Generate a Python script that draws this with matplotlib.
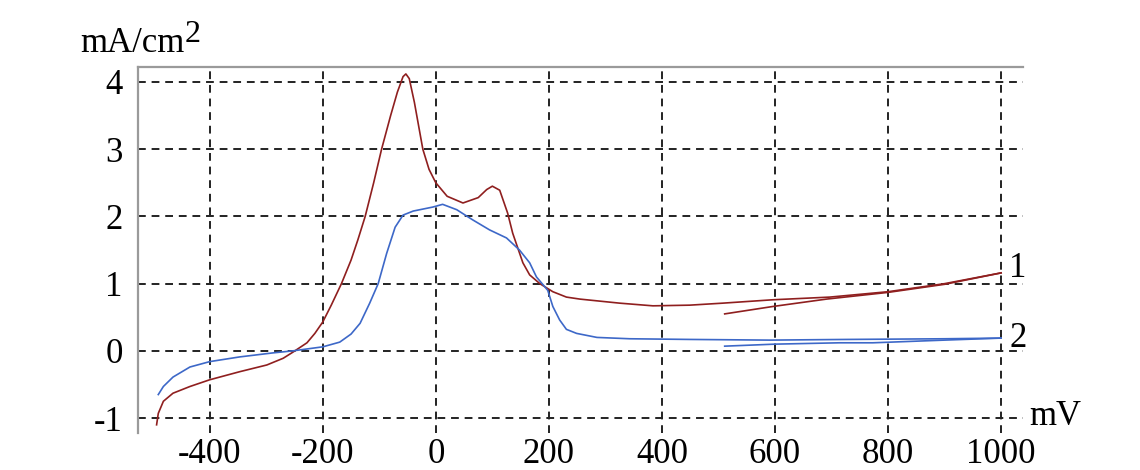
import matplotlib.pyplot as plt

plt.rcParams['font.family'] = ['Liberation Serif', 'DejaVu Serif']
plt.rcParams['axes.unicode_minus'] = False

# curve 1 (red), forward sweep and return sweep
e1_fwd = [-494, -491, -482, -465, -435, -400, -347, -299, -270, -253, -228, -214,
          -200, -185, -167, -150, -138, -125, -110, -96, -80, -68, -58, -53, -47,
          -38, -23, -12, 0, 20, 48, 75, 90, 100, 113, 127, 136, 145, 154, 166, 184,
          207, 231, 255, 290, 325, 384, 449, 508, 596, 697, 800, 900, 1000]
i1_fwd = [-1.10, -0.93, -0.75, -0.63, -0.53, -0.43, -0.31, -0.21, -0.11, -0.02, 0.12, 0.26,
          0.43, 0.68, 1.00, 1.35, 1.65, 2.00, 2.50, 3.00, 3.50, 3.85, 4.08, 4.12, 4.05,
          3.70, 3.00, 2.70, 2.50, 2.30, 2.20, 2.28, 2.40, 2.45, 2.39, 2.05, 1.75, 1.53, 1.31, 1.13, 1.00,
          0.88, 0.80, 0.77, 0.74, 0.71, 0.67, 0.68, 0.71, 0.76, 0.80, 0.88, 1.00, 1.16]
e1_rev = [1000, 900, 800, 691, 596, 511]
i1_rev = [1.16, 0.99, 0.87, 0.77, 0.66, 0.55]

# curve 2 (blue)
e2_fwd = [-491, -482, -465, -435, -400, -347, -288, -253, -200, -170, -150, -134, -117,
          -102, -87, -72, -58, -40, -5, 12, 37, 65, 95, 125, 148, 166, 178, 198, 207,
          219, 231, 249, 285, 343, 450, 590, 727, 900, 1000]
i2_fwd = [-0.65, -0.53, -0.39, -0.24, -0.16, -0.09, -0.03, 0.00, 0.06, 0.13, 0.25, 0.41, 0.71,
          1.00, 1.45, 1.84, 2.02, 2.08, 2.14, 2.18, 2.10, 1.95, 1.80, 1.68, 1.50, 1.31, 1.10, 0.90, 0.66,
          0.46, 0.32, 0.26, 0.20, 0.18, 0.17, 0.16, 0.17, 0.18, 0.19]
e2_rev = [1000, 900, 773, 714, 600, 511]
i2_rev = [0.19, 0.16, 0.12, 0.12, 0.10, 0.07]

xticks = [-400, -200, 0, 200, 400, 600, 800, 1000]
yticks = [-1, 0, 1, 2, 3, 4]

red = '#8f1f1f'
blue = '#3d68c8'

fig = plt.figure(figsize=(11.4, 4.7), dpi=100)
ax = fig.add_axes([0.121, 0.079, 0.776, 0.778])

ax.plot(e1_fwd, i1_fwd, color=red, lw=1.2)
ax.plot(e1_rev, i1_rev, color=red, lw=1.2)
ax.plot(e2_fwd, i2_fwd, color=blue, lw=1.2)
ax.plot(e2_rev, i2_rev, color=blue, lw=1.2)

ax.set_xlim(-527, 1038)
ax.set_ylim(-1.22, 4.22)
ax.set_xticks(xticks)
ax.set_yticks(yticks)
ax.tick_params(length=0, labelsize=25)
ax.tick_params(axis='y', pad=11)
ax.tick_params(axis='x', pad=4)

ax.grid(True, color='#222222', linestyle=(0, (4, 3)), linewidth=1.4)
for s in ['right', 'bottom']:
    ax.spines[s].set_visible(False)
for s in ['top', 'left']:
    ax.spines[s].set_color('#9a9a9a')
    ax.spines[s].set_linewidth(1.6)

ax.text(1014, 1.23, '1', fontsize=25, va='center', ha='left', clip_on=False)
ax.text(1014, 0.19, '2', fontsize=25, va='center', ha='left', clip_on=False)
ax.text(1050, -0.97, 'mV', fontsize=25, va='center', ha='left', clip_on=False)

unit = fig.text(0.070, 0.889, 'mA/cm', fontsize=25, va='baseline', ha='left')
bb = unit.get_window_extent(renderer=fig.canvas.get_renderer())
fig.text((bb.x1 + 1) / fig.bbox.width, 0.911, '2', fontsize=23, va='baseline', ha='left')

fig.savefig('out.png', dpi=100)
